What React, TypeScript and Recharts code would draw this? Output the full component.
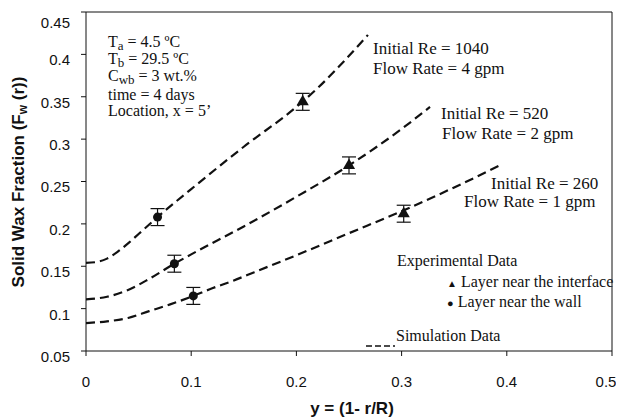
import { ComposedChart, Line, Scatter, ErrorBar, XAxis, YAxis, ReferenceLine } from "recharts"

// simulation curves (dashed)
const re1040X = [0, 0.01, 0.02, 0.03, 0.04, 0.05, 0.068, 0.1, 0.15, 0.2, 0.22, 0.24, 0.268]
const re1040Y = [0.154, 0.155, 0.159, 0.167, 0.177, 0.188, 0.208, 0.241, 0.291, 0.338, 0.36, 0.385, 0.423]
const re520X = [0, 0.02, 0.04, 0.06, 0.084, 0.1, 0.15, 0.2, 0.25, 0.3, 0.327]
const re520Y = [0.111, 0.114, 0.122, 0.135, 0.153, 0.164, 0.197, 0.232, 0.269, 0.312, 0.338]
const re260X = [0, 0.02, 0.04, 0.06, 0.08, 0.1, 0.12, 0.14, 0.16, 0.2, 0.25, 0.3, 0.35, 0.395]
const re260Y = [0.083, 0.085, 0.089, 0.097, 0.105, 0.114, 0.124, 0.133, 0.143, 0.163, 0.189, 0.215, 0.243, 0.27]

// experimental points
const interfaceX = [0.206, 0.25, 0.302]
const interfaceY = [0.344, 0.269, 0.212]
const wallX = [0.068, 0.084, 0.102]
const wallY = [0.208, 0.153, 0.115]
const errSize = 0.01

const xTicks = [0, 0.1, 0.2, 0.3, 0.4, 0.5]
const yTicks = [0.05, 0.1, 0.15, 0.2, 0.25, 0.3, 0.35, 0.4, 0.45]

const toRows = (xs: number[], ys: number[]) => xs.map((x, i) => ({ x, y: ys[i], err: errSize }))

const serif = "'Liberation Serif', 'Times New Roman', serif"
const sans = "'Liberation Sans', Arial, sans-serif"

const YTick = ({ x, y, payload }: any) => (
  <text x={x - 9} y={y + 7} textAnchor="end" dominantBaseline="middle" fontSize={15} fontFamily={sans} fill="#111">
    {payload.value}
  </text>
)

const XTick = ({ x, y, payload }: any) => (
  <text x={x} y={y + 25} textAnchor="middle" dominantBaseline="middle" fontSize={15} fontFamily={sans} fill="#111">
    {payload.value}
  </text>
)

// page coords -> wrapper coords (body margin 8)
const Txt = ({ x, y, children, size = 17 }: any) => (
  <div
    style={{
      position: "absolute",
      left: x - 8,
      top: y - 8 - size / 2,
      fontSize: size,
      lineHeight: `${size}px`,
      fontFamily: serif,
      whiteSpace: "nowrap",
      color: "#111",
    }}
  >
    {children}
  </div>
)

const sub = { fontSize: 13, verticalAlign: "-3px", lineHeight: 0 }

export default function App() {
  return (
    <div style={{ position: "relative", width: 608, height: 409 }}>
      <ComposedChart width={608} height={409} margin={{ top: 4, right: 4, bottom: 26, left: 0 }}>
        <XAxis
          dataKey="x"
          type="number"
          domain={[0, 0.5]}
          ticks={xTicks}
          tick={<XTick />}
          tickSize={5}
          height={40}
          stroke="#111"
          allowDataOverflow
        />
        <YAxis
          type="number"
          domain={[0.05, 0.45]}
          ticks={yTicks}
          tick={<YTick />}
          tickSize={5}
          width={78}
          stroke="#111"
          allowDataOverflow
        />
        <ReferenceLine y={0.45} stroke="#111" />
        <ReferenceLine x={0.5} stroke="#111" />
        <Line data={toRows(re1040X, re1040Y)} dataKey="y" type="monotone" stroke="#111" strokeWidth={2.2} strokeDasharray="9 5" dot={false} isAnimationActive={false} />
        <Line data={toRows(re520X, re520Y)} dataKey="y" type="monotone" stroke="#111" strokeWidth={2.2} strokeDasharray="9 5" dot={false} isAnimationActive={false} />
        <Line data={toRows(re260X, re260Y)} dataKey="y" type="monotone" stroke="#111" strokeWidth={2.2} strokeDasharray="9 5" dot={false} isAnimationActive={false} />
        <Scatter data={toRows(interfaceX, interfaceY)} dataKey="y" shape="triangle" size={45} fill="#111" isAnimationActive={false}>
          <ErrorBar dataKey="err" direction="y" width={7} stroke="#111" strokeWidth={1.2} />
        </Scatter>
        <Scatter data={toRows(wallX, wallY)} dataKey="y" shape="circle" size={80} fill="#111" isAnimationActive={false}>
          <ErrorBar dataKey="err" direction="y" width={7} stroke="#111" strokeWidth={1.2} />
        </Scatter>
      </ComposedChart>

      <Txt x={108} y={42} size={16}>T<span style={sub}>a</span> = 4.5 ºC</Txt>
      <Txt x={108} y={59} size={16}>T<span style={sub}>b</span> = 29.5 ºC</Txt>
      <Txt x={108} y={76} size={16}>C<span style={sub}>wb</span> = 3 wt.%</Txt>
      <Txt x={108} y={95} size={16}>time = 4 days</Txt>
      <Txt x={108} y={111} size={16}>Location, x = 5’</Txt>

      <Txt x={373} y={48}>Initial Re = 1040</Txt>
      <Txt x={373} y={68}>Flow Rate = 4 gpm</Txt>
      <Txt x={441} y={113}>Initial Re = 520</Txt>
      <Txt x={442} y={133}>Flow Rate = 2 gpm</Txt>
      <Txt x={491} y={183}>Initial Re = 260</Txt>
      <Txt x={464} y={201}>Flow Rate = 1 gpm</Txt>

      <Txt x={397} y={261} size={16}>Experimental Data</Txt>
      <Txt x={447} y={282} size={16}><span style={{ fontSize: 10 }}>▲</span> Layer near the interface</Txt>
      <Txt x={447} y={302} size={16}><span style={{ fontSize: 11 }}>●</span> Layer near the wall</Txt>
      <div style={{ position: "absolute", left: 366 - 8, top: 336 - 8 - 2 }}>
        <svg width={29} height={4}>
          <line x1={0} y1={2} x2={29} y2={2} stroke="#111" strokeWidth={1.5} strokeDasharray="6 3" />
        </svg>
      </div>
      <Txt x={396} y={336} size={16}>Simulation Data</Txt>

      <div
        style={{
          position: "absolute",
          left: 352 - 8,
          top: 409 - 8 - 9,
          transform: "translateX(-50%)",
          fontFamily: sans,
          fontWeight: "bold",
          fontSize: 17,
          lineHeight: "18px",
          whiteSpace: "nowrap",
          color: "#111",
        }}
      >
        y = (1- r/R)
      </div>
      <div
        style={{
          position: "absolute",
          left: 21 - 8,
          top: 182 - 8,
          transform: "translate(-50%, -50%) rotate(-90deg)",
          fontFamily: sans,
          fontWeight: "bold",
          fontSize: 17,
          lineHeight: "18px",
          whiteSpace: "nowrap",
          color: "#111",
        }}
      >
        Solid Wax Fraction (F<span style={{ fontSize: 12, verticalAlign: "-3px" }}>w</span> (r))
      </div>
    </div>
  )
}
